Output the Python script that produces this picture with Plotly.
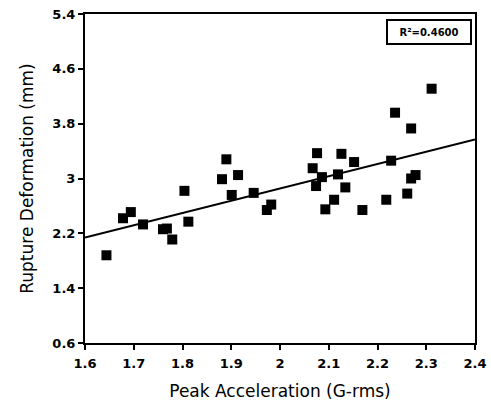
import plotly.graph_objects as go

accel = [1.644, 1.678, 1.694, 1.719, 1.760, 1.768, 1.779, 1.804, 1.812, 1.881,
         1.890, 1.901, 1.914, 1.946, 1.973, 1.982, 2.067, 2.076, 2.074, 2.086,
         2.093, 2.111, 2.119, 2.126, 2.134, 2.152, 2.169, 2.218, 2.228, 2.236,
         2.261, 2.269, 2.269, 2.278, 2.311]
deform = [1.88, 2.42, 2.51, 2.33, 2.26, 2.27, 2.11, 2.82, 2.37, 2.99,
          3.28, 2.76, 3.05, 2.79, 2.54, 2.62, 3.15, 3.37, 2.89, 3.02,
          2.55, 2.69, 3.06, 3.36, 2.87, 3.24, 2.54, 2.69, 3.26, 3.96,
          2.78, 3.73, 3.00, 3.05, 4.31]
trend_x = [1.6, 2.4]
trend_y = [2.14, 3.57]
x_ticks = [1.6, 1.7, 1.8, 1.9, 2.0, 2.1, 2.2, 2.3, 2.4]
x_labels = ["1.6", "1.7", "1.8", "1.9", "2", "2.1", "2.2", "2.3", "2.4"]
y_ticks = [0.6, 1.4, 2.2, 3.0, 3.8, 4.6, 5.4]
y_labels = ["0.6", "1.4", "2.2", "3", "3.8", "4.6", "5.4"]
r2_text = "R²=0.4600"

fig = go.Figure()
fig.add_trace(go.Scatter(x=trend_x, y=trend_y, mode="lines",
                         line=dict(color="black", width=2), showlegend=False))
fig.add_trace(go.Scatter(x=accel, y=deform, mode="markers",
                         marker=dict(symbol="square", size=10, color="black"),
                         showlegend=False))

axis_common = dict(showline=True, linecolor="black", linewidth=2, mirror=True,
                   ticks="outside", ticklen=5, tickwidth=2, tickcolor="black",
                   showgrid=False, zeroline=False, automargin=False,
                   tickfont=dict(family="DejaVu Sans", size=13, color="black", weight="bold"))

fig.update_xaxes(range=[1.6, 2.4], tickvals=x_ticks, ticktext=x_labels,
                 ticklabelstandoff=2,
                 title=dict(text="Peak Acceleration (G-rms)", standoff=16,
                            font=dict(family="DejaVu Sans", size=17, color="black")),
                 **axis_common)
fig.update_yaxes(range=[0.6, 5.4], tickvals=y_ticks, ticktext=y_labels,
                 title=dict(text="Rupture Deformation (mm)", standoff=14,
                            font=dict(family="DejaVu Sans", size=17, color="black")),
                 **axis_common)

fig.add_annotation(x=0.882, y=0.945, xref="paper", yref="paper",
                   xanchor="center", yanchor="middle",
                   text=r2_text, showarrow=False,
                   font=dict(family="DejaVu Sans", size=10, color="black", weight="bold"),
                   bordercolor="black", borderwidth=2, borderpad=3,
                   bgcolor="white", width=76, height=16)

fig.update_layout(width=491, height=403, plot_bgcolor="white", paper_bgcolor="white",
                  margin=dict(l=85, r=16, t=14, b=60))

fig.write_html("out.html")
